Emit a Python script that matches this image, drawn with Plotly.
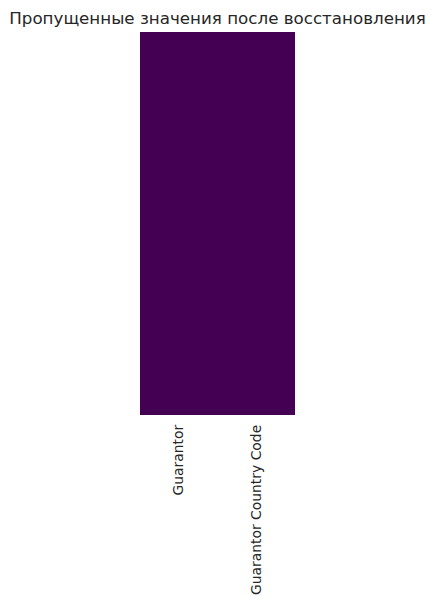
import plotly.graph_objects as go

columns = ["Guarantor", "Guarantor Country Code"]
n_rows = 100
# missing flags after imputation: none missing (0 = False)
missing_row = [0, 0]
z = [list(missing_row) for _ in range(n_rows)]

fig = go.Figure(go.Heatmap(
    z=z,
    x=columns,
    y=list(range(n_rows)),
    colorscale=[[0, "#440154"], [1, "#fde725"]],
    zmin=0, zmax=1,
    showscale=False,
    hoverinfo="skip",
))

fig.update_layout(
    width=434, height=607,
    margin=dict(l=140, r=139, t=32, b=190),
    paper_bgcolor="white", plot_bgcolor="white",
    font=dict(family="DejaVu Sans", color="#262626", size=13.9),
    title=dict(text="Пропущенные значения после восстановления",
               x=0.5, xref="paper", xanchor="center",
               y=1 - 18/607, yanchor="middle",
               font=dict(size=16.7, color="#262626", family="DejaVu Sans")),
)
fig.update_xaxes(tickangle=-90, ticks="", showgrid=False, zeroline=False,
                 showline=False, ticklabelstandoff=6,
                 tickfont=dict(family="DejaVu Sans", color="#262626", size=13.9))
fig.update_yaxes(showticklabels=False, ticks="", showgrid=False, zeroline=False,
                 autorange="reversed")

fig.write_html("out.html")
